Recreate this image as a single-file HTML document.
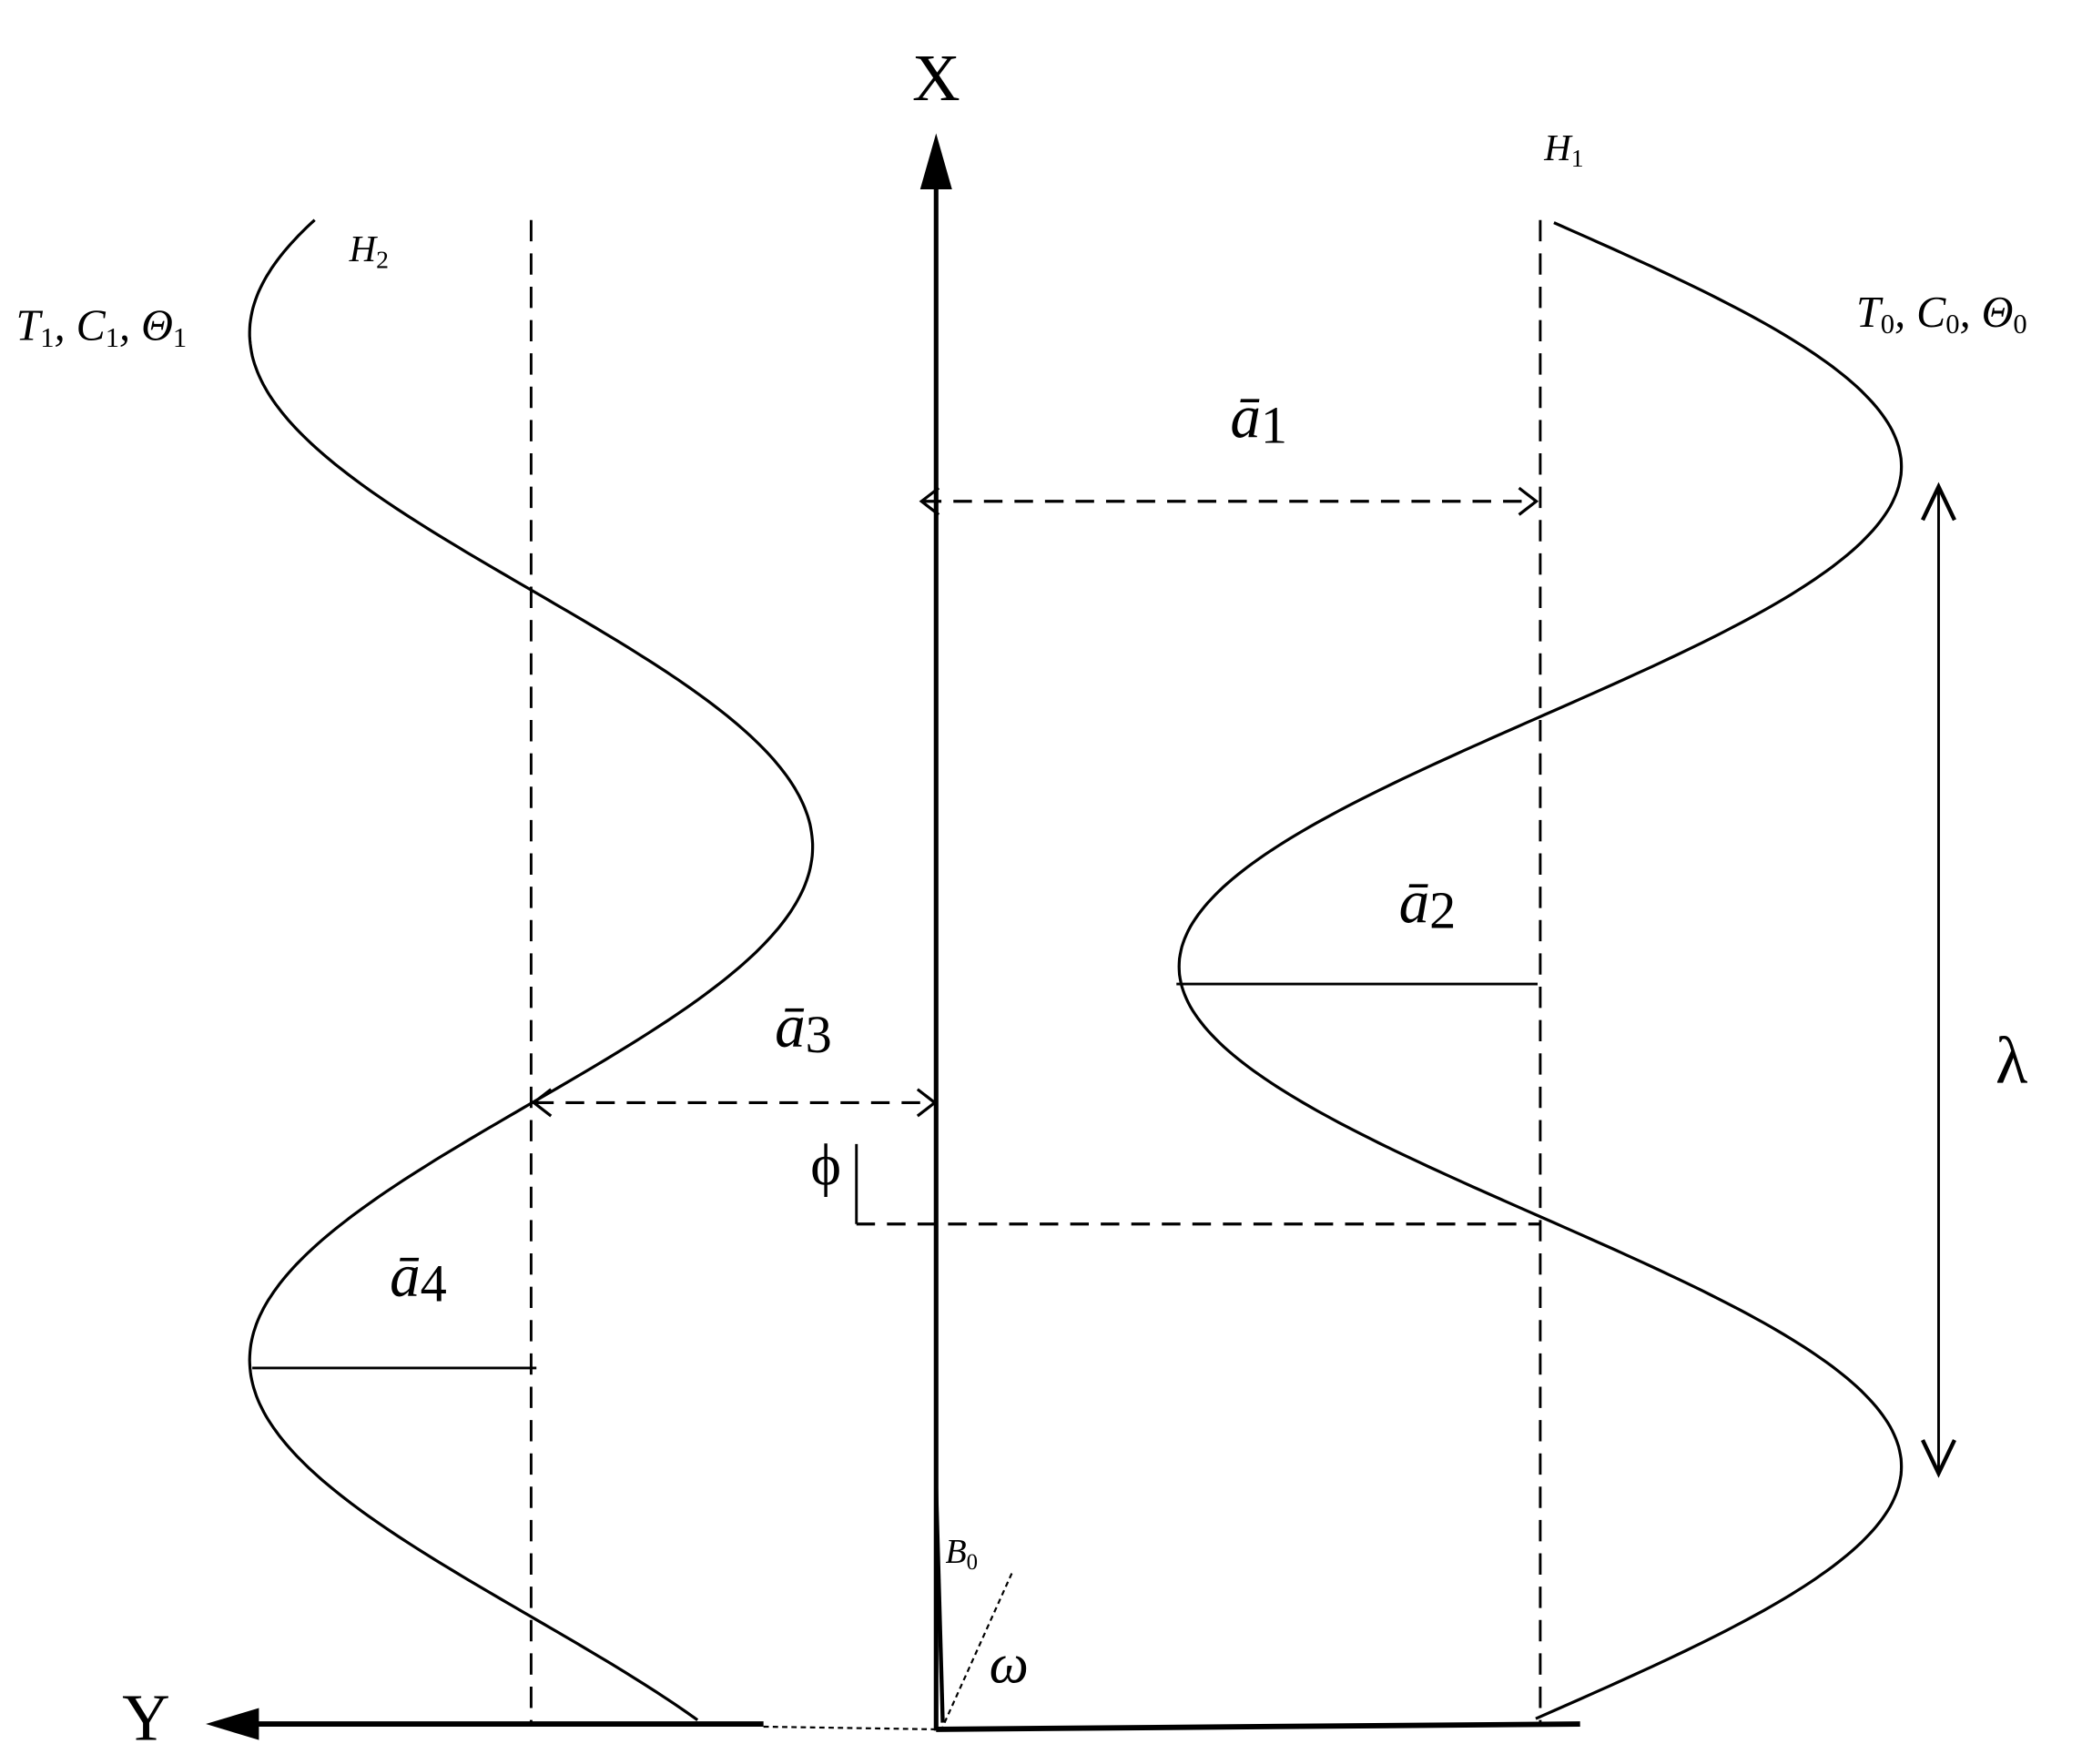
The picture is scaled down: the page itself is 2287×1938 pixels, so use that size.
<!DOCTYPE html>
<html><head><style>body{margin:0;background:#fff}svg{display:block}</style></head><body>
<svg width="2287" height="1938" viewBox="0 0 1568 1323" preserveAspectRatio="none" xmlns="http://www.w3.org/2000/svg">
<rect width="1568" height="1323" fill="#fff"/>
<g stroke="#000" fill="none">
<line x1="705" y1="135" x2="705" y2="1298" stroke-width="3.5"/>
<polygon points="705,100 693,142 717,142" fill="#000" stroke="none"/>
<line x1="190" y1="1293" x2="575" y2="1293" stroke-width="4"/>
<line x1="575" y1="1295" x2="705" y2="1297" stroke-width="1.5" stroke-dasharray="4,3"/>
<line x1="705" y1="1297" x2="1190" y2="1293" stroke-width="4"/>
<polygon points="155,1293 195,1281 195,1305" fill="#000" stroke="none"/>
<line x1="400" y1="165" x2="400" y2="1293" stroke-width="2" stroke-dasharray="16,9"/>
<line x1="1160" y1="165" x2="1160" y2="1293" stroke-width="2" stroke-dasharray="16,9"/>
<path id="rw" stroke-width="2.2" d=""/>
<path id="lw" stroke-width="2.2" d=""/>
<line x1="695" y1="376" x2="1156" y2="376" stroke-width="2.2" stroke-dasharray="14,9"/>
<polyline points="707,366 694,376 707,386" stroke-width="2.2"/>
<polyline points="1144,366 1157,376 1144,386" stroke-width="2.2"/>
<line x1="886" y1="738" x2="1158" y2="738" stroke-width="2"/>
<line x1="403" y1="827" x2="703" y2="827" stroke-width="2.2" stroke-dasharray="14,9"/>
<polyline points="415,817 402,827 415,837" stroke-width="2.2"/>
<polyline points="691,817 704,827 691,837" stroke-width="2.2"/>
<line x1="190" y1="1026" x2="404" y2="1026" stroke-width="2"/>
<line x1="645" y1="858" x2="645" y2="918" stroke-width="2"/>
<line x1="645" y1="918" x2="1160" y2="918" stroke-width="2.2" stroke-dasharray="14,9"/>
<line x1="1460" y1="368" x2="1460" y2="1102" stroke-width="2"/>
<polyline points="1448,390 1460,365 1472,390" stroke-width="3"/>
<polyline points="1448,1080 1460,1105 1472,1080" stroke-width="3"/>
<line x1="705" y1="1115" x2="710" y2="1292" stroke-width="3"/>
<line x1="762" y1="1180" x2="710" y2="1295" stroke-width="1.5" stroke-dasharray="4,3"/>
</g>
<g font-family="Liberation Serif, serif" fill="#000">
<text x="705" y="75" font-size="50" text-anchor="middle">X</text>
<text x="110" y="1305" font-size="50" text-anchor="middle">Y</text>
<text x="948" y="328" font-size="46" font-style="italic" text-anchor="middle">ā<tspan font-style="normal" font-size="40" dy="4">1</tspan></text>
<text x="1075" y="692" font-size="46" font-style="italic" text-anchor="middle">ā<tspan font-style="normal" font-size="40" dy="4">2</tspan></text>
<text x="605" y="785" font-size="46" font-style="italic" text-anchor="middle">ā<tspan font-style="normal" font-size="40" dy="4">3</tspan></text>
<text x="315" y="972" font-size="46" font-style="italic" text-anchor="middle">ā<tspan font-style="normal" font-size="40" dy="4">4</tspan></text>
<text x="622" y="888" font-size="44" text-anchor="middle">ϕ</text>
<text x="1515" y="812" font-size="50" text-anchor="middle">λ</text>
<text x="1163" y="120" font-size="28" font-style="italic">H<tspan font-size="19" dy="5" font-style="normal">1</tspan></text>
<text x="263" y="196" font-size="28" font-style="italic">H<tspan font-size="19" dy="5" font-style="normal">2</tspan></text>
<text x="12" y="255" font-size="33" font-style="italic">T<tspan font-size="21" dy="5" font-style="normal">1</tspan><tspan dy="-5">, C</tspan><tspan font-size="21" dy="5" font-style="normal">1</tspan><tspan dy="-5">, Θ</tspan><tspan font-size="21" dy="5" font-style="normal">1</tspan></text>
<text x="1398" y="245" font-size="33" font-style="italic">T<tspan font-size="21" dy="5" font-style="normal">0</tspan><tspan dy="-5">, C</tspan><tspan font-size="21" dy="5" font-style="normal">0</tspan><tspan dy="-5">, Θ</tspan><tspan font-size="21" dy="5" font-style="normal">0</tspan></text>
<text x="712" y="1172" font-size="26" font-style="italic">B<tspan font-size="17" dy="5" font-style="normal">0</tspan></text>
<text x="745" y="1262" font-size="42" font-style="italic">ω</text>
</g>
<script>
function w(id,f,y0,y1){var d="";for(var y=y0;y<=y1;y+=3){d+=(y==y0?"M":"L")+f(y).toFixed(1)+","+y+" ";}document.getElementById(id).setAttribute("d",d);}
w("rw",function(y){return 1160+272*Math.cos(2*Math.PI*(y-350)/750);},167,1290);
w("lw",function(y){return 400-212*Math.cos(2*Math.PI*(y-250)/770);},165,1290);
</script>
</svg>
</body></html>
